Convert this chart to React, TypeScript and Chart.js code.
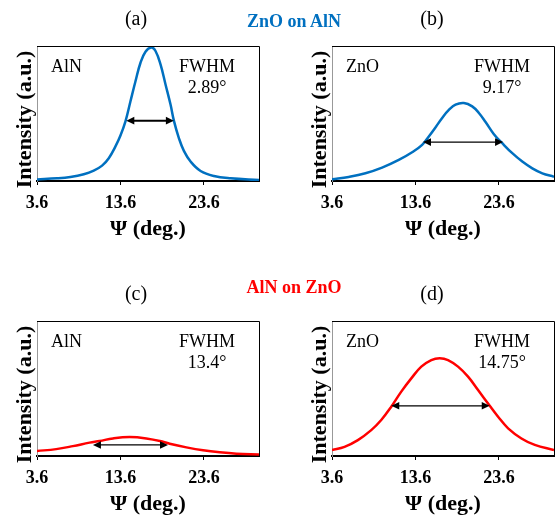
import React, { useEffect, useRef } from "react";
import { Chart, registerables } from "chart.js";

Chart.register(...registerables);

const FONT = "'Liberation Serif', 'Times New Roman', serif";
const BLUE = "#0070C0";
const RED = "#FF0000";

const X_MIN = 3.6;
const X_MAX = 30.2;
const xTicks = [3.6, 13.6, 23.6];

// (a) AlN in ZnO-on-AlN
const aX = [3.6, 6.0, 7.6, 9.2, 10.4, 11.4, 12.2, 13.0, 13.6, 14.2, 14.8, 15.4, 16.0, 16.6, 17.3, 17.8, 18.4, 19.0, 19.6, 20.0, 20.6, 21.2, 22.0, 23.2, 24.8, 26.8, 30.2];
const aY = [1.2, 2.0, 3.0, 5.0, 7.7, 11.4, 16.9, 25.6, 33.7, 44.2, 59.1, 73.9, 87.6, 95.8, 98.8, 96.3, 86.4, 71.5, 56.6, 44.7, 31.8, 22.3, 14.4, 7.4, 3.7, 2.0, 0.7];
const arrowA = [14.3, 20.0, 44.7];

// (b) ZnO in ZnO-on-AlN
const bX = [3.6, 5.6, 7.6, 9.6, 11.6, 13.2, 14.4, 15.2, 16.0, 16.8, 17.6, 18.4, 19.4, 20.4, 21.2, 22.0, 23.0, 24.0, 25.2, 26.4, 27.6, 28.8, 30.2];
const bY = [1.2, 3.0, 5.7, 9.9, 15.6, 21.3, 26.8, 33.0, 39.7, 46.7, 52.6, 56.6, 57.8, 55.3, 50.4, 43.7, 34.7, 28.0, 20.6, 14.4, 9.4, 5.7, 3.2];
const arrowB = [14.5, 24.1, 28.8];

// (c) AlN in AlN-on-ZnO
const cX = [3.6, 5.9, 7.9, 9.9, 11.1, 12.7, 14.7, 16.7, 18.7, 19.5, 21.5, 23.5, 25.5, 27.5, 30.2];
const cY = [3.7, 5.1, 7.3, 9.9, 11.1, 13.0, 14.0, 13.0, 10.6, 9.1, 6.4, 4.2, 2.7, 1.7, 1.2];
const arrowC = [10.3, 19.3, 8.2];

// (d) ZnO in AlN-on-ZnO
const dX = [3.6, 5.1, 6.7, 8.3, 9.5, 10.7, 11.9, 13.1, 14.3, 15.5, 16.5, 17.5, 18.7, 19.9, 21.1, 22.5, 23.5, 24.7, 26.3, 27.9, 30.2];
const dY = [4.4, 6.8, 11.8, 19.2, 26.7, 36.5, 47.7, 57.5, 66.2, 71.1, 72.4, 71.1, 66.2, 58.8, 48.9, 37.2, 29.1, 20.5, 13.0, 8.2, 4.4];
const arrowD = [10.7, 22.5, 37.2];

const panelLetters = ["(a)", "(b)", "(c)", "(d)"];
const materials = ["AlN", "ZnO", "AlN", "ZnO"];
const fwhmValues = ["2.89°", "9.17°", "13.4°", "14.75°"];
const groupTitles = ["ZnO on AlN", "AlN on ZnO"];

const CANVAS_H = 245;

const decorPlugin = {
  id: "panelDecor",
  afterDraw(chart: any, _args: any, opts: any) {
    const { ctx, chartArea, scales } = chart;
    const { left, right, top, bottom } = chartArea;
    const x = scales.x;
    const y = scales.y;
    ctx.save();
    // top and right frame
    ctx.strokeStyle = "#000";
    ctx.lineWidth = 1;
    ctx.beginPath();
    ctx.moveTo(left, top + 0.5);
    ctx.lineTo(right + 0.5, top + 0.5);
    ctx.lineTo(right + 0.5, bottom);
    ctx.stroke();

    // FWHM double arrow
    const [x1, x2, yv] = opts.arrow;
    const p1 = x.getPixelForValue(x1);
    const p2 = x.getPixelForValue(x2);
    const py = y.getPixelForValue(yv);
    const hl = 8;
    const hw = 3.8;
    ctx.strokeStyle = "#000";
    ctx.fillStyle = "#000";
    ctx.lineWidth = opts.arrowWidth;
    ctx.beginPath();
    ctx.moveTo(p1 + hl - 1, py);
    ctx.lineTo(p2 - hl + 1, py);
    ctx.stroke();
    ctx.beginPath();
    ctx.moveTo(p1, py);
    ctx.lineTo(p1 + hl, py - hw);
    ctx.lineTo(p1 + hl, py + hw);
    ctx.closePath();
    ctx.fill();
    ctx.beginPath();
    ctx.moveTo(p2, py);
    ctx.lineTo(p2 - hl, py - hw);
    ctx.lineTo(p2 - hl, py + hw);
    ctx.closePath();
    ctx.fill();

    // inner labels
    ctx.fillStyle = "#000";
    ctx.font = `18px ${FONT}`;
    ctx.textBaseline = "middle";
    ctx.textAlign = "left";
    ctx.fillText(opts.material, left + 14, top + 21);
    ctx.textAlign = "center";
    ctx.fillText("FWHM", left + 170, top + 21);
    ctx.fillText(opts.fwhm, left + 170, top + 42);

    // y axis title
    ctx.translate(left - 12, (top + bottom) / 2 + 6);
    ctx.rotate(-Math.PI / 2);
    ctx.font = `bold 22px ${FONT}`;
    ctx.textAlign = "center";
    ctx.textBaseline = "middle";
    ctx.fillText("Intensity (a.u.)", 0, 0);
    ctx.restore();
  },
};

type PanelProps = {
  xs: number[];
  ys: number[];
  color: string;
  arrow: number[];
  arrowWidth: number;
  material: string;
  fwhm: string;
  col: number;
  row: number;
};

function Panel(p: PanelProps) {
  const ref = useRef<HTMLCanvasElement | null>(null);
  const width = p.col === 0 ? 278 : 279;
  useEffect(() => {
    if (!ref.current) return;
    const padLeft = p.col === 0 ? 0 : 17;
    const padRight = p.col === 0 ? 19 : 3;
    const chart = new Chart(ref.current, {
      type: "line",
      data: {
        datasets: [
          {
            data: p.xs.map((v, i) => ({ x: v, y: p.ys[i] })),
            borderColor: p.color,
            borderWidth: 2.5,
            pointRadius: 0,
            fill: false,
            tension: 0.4,
          },
        ],
      },
      options: {
        responsive: false,
        animation: false,
        events: [],
        layout: { padding: { left: padLeft, right: padRight, top: 46, bottom: 0 } },
        plugins: {
          legend: { display: false },
          tooltip: { enabled: false },
          panelDecor: {
            arrow: p.arrow,
            arrowWidth: p.arrowWidth,
            material: p.material,
            fwhm: p.fwhm,
          },
        } as any,
        scales: {
          x: {
            type: "linear",
            min: X_MIN,
            max: X_MAX,
            afterBuildTicks: (s: any) => {
              s.ticks = xTicks.map((v) => ({ value: v }));
            },
            afterFit: (s: any) => {
              s.height = 64;
            },
            ticks: {
              callback: (v: any) => Number(v).toFixed(1),
              font: { family: FONT, size: 18, weight: "bold" },
              color: "#000",
              padding: 8,
              maxRotation: 0,
              autoSkip: false,
            },
            grid: {
              display: true,
              drawOnChartArea: false,
              drawTicks: true,
              tickLength: 4,
              color: "#000",
              lineWidth: 1,
            },
            border: { display: true, color: "#000", width: 2 },
            title: {
              display: true,
              text: "Ψ (deg.)",
              font: { family: FONT, size: 22, weight: "bold" },
              color: "#000",
              padding: { top: 0, bottom: 2 },
            },
          },
          y: {
            type: "linear",
            min: 0,
            max: 100,
            afterFit: (s: any) => {
              s.width = 37;
            },
            ticks: { display: false },
            grid: { display: false },
            border: { display: true, color: "#999", width: 1, dash: [2, 2] },
          },
        },
      } as any,
      plugins: [decorPlugin as any],
    });
    return () => chart.destroy();
  }, []);
  return (
    <canvas
      ref={ref}
      width={width}
      height={CANVAS_H}
      style={{
        position: "absolute",
        left: p.col === 0 ? 0 : 278,
        top: p.row === 0 ? 0 : 275,
        width,
        height: CANVAS_H,
      }}
    />
  );
}

function Label(props: { text: string; x: number; y: number; size: number; bold?: boolean; color?: string }) {
  return (
    <div
      style={{
        position: "absolute",
        left: props.x,
        top: props.y,
        transform: "translate(-50%, -50%)",
        fontFamily: FONT,
        fontSize: props.size,
        fontWeight: props.bold ? "bold" : "normal",
        color: props.color || "#000",
        whiteSpace: "nowrap",
        lineHeight: 1.15,
      }}
    >
      {props.text}
    </div>
  );
}

export default function App() {
  return (
    <div
      style={{
        position: "fixed",
        left: 0,
        top: 0,
        width: 557,
        height: 522,
        overflow: "hidden",
        background: "#fff",
      }}
    >
      <Panel xs={aX} ys={aY} color={BLUE} arrow={arrowA} arrowWidth={2} material={materials[0]} fwhm={fwhmValues[0]} col={0} row={0} />
      <Panel xs={bX} ys={bY} color={BLUE} arrow={arrowB} arrowWidth={1.2} material={materials[1]} fwhm={fwhmValues[1]} col={1} row={0} />
      <Panel xs={cX} ys={cY} color={RED} arrow={arrowC} arrowWidth={1.2} material={materials[2]} fwhm={fwhmValues[2]} col={0} row={1} />
      <Panel xs={dX} ys={dY} color={RED} arrow={arrowD} arrowWidth={1.2} material={materials[3]} fwhm={fwhmValues[3]} col={1} row={1} />
      <Label text={panelLetters[0]} x={136} y={18} size={20} />
      <Label text={panelLetters[1]} x={432} y={18} size={20} />
      <Label text={panelLetters[2]} x={136} y={293} size={20} />
      <Label text={panelLetters[3]} x={432} y={293} size={20} />
      <Label text={groupTitles[0]} x={294} y={21} size={18} bold color={BLUE} />
      <Label text={groupTitles[1]} x={294} y={287} size={18} bold color={RED} />
    </div>
  );
}
